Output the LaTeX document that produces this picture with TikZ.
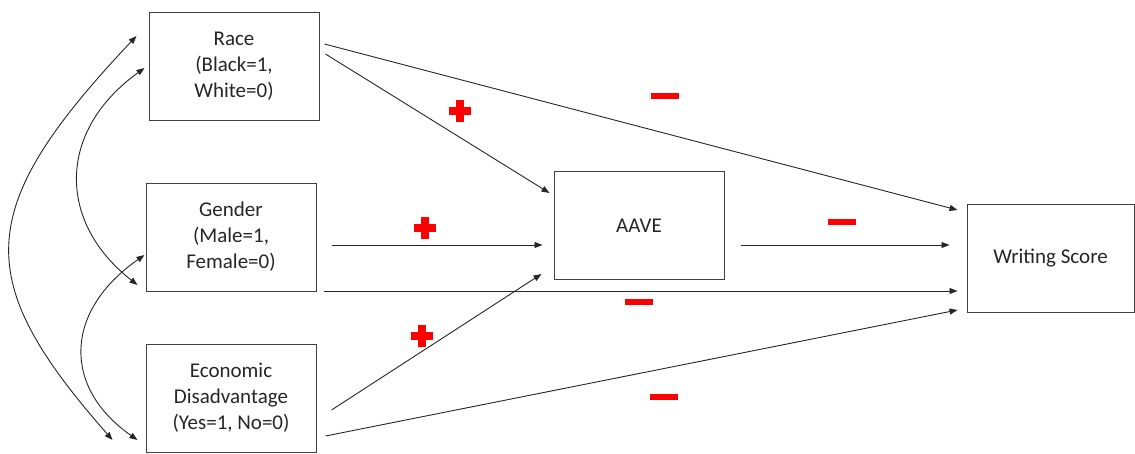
\documentclass[tikz,border=0pt]{standalone}
\usepackage{fontspec}
\setmainfont{Carlito}
\usetikzlibrary{arrows.meta}
\tikzset{
  varbox/.style={draw=black!75, line width=1pt, minimum width=170pt, minimum height=108pt,
    inner sep=0pt, align=center, font=\fontsize{21}{26}\selectfont, text=black!85},
  path/.style={draw=black!85, line width=0.9pt, -{Triangle[length=8pt,width=6pt]}},
  dpath/.style={draw=black!85, line width=0.9pt, {Triangle[length=8pt,width=6pt]}-{Triangle[length=8pt,width=6pt]}},
  signfill/.style={fill=red}
}
\begin{document}
\begin{tikzpicture}[x=1pt,y=-1pt]
\useasboundingbox (0,0) rectangle (1135,453);
\node[varbox] (race) at (234,66) {Race\\(Black=1,\\White=0)};
\node[varbox] (gender) at (231,237) {Gender\\(Male=1,\\Female=0)};
\node[varbox] (econ) at (231,398) {Economic\\Disadvantage\\(Yes=1, No=0)};
\node[varbox] (aave) at (639,225.5) {AAVE};
\node[varbox, minimum width=167pt] (write) at (1050.5,258) {Writing Score};

% direct paths
\draw[path] ([shift={(5,-22)}]race.east) -- ([shift={(-9,-48)}]write.west);
\draw[path] ([shift={(6,-12)}]race.east) -- ([shift={(-4,-32.5)}]aave.west);
\draw[path] ([shift={(15,8)}]gender.east) -- ([shift={(-11,19.5)}]aave.west);
\draw[path] ([shift={(7,54)}]gender.east) -- ([shift={(-9,33)}]write.west);
\draw[path] ([shift={(16,19.5)}]aave.east) -- ([shift={(-17,-13)}]write.west);
\draw[path] ([shift={(15,12)}]econ.east) -- ([shift={(-12,48.5)}]aave.west);
\draw[path] ([shift={(9,38)}]econ.east) -- ([shift={(-9,52)}]write.west);

% correlations
\draw[dpath] ([shift={(-12,-30)}]race.west) .. controls (-28,210) and (-28,280) .. ([shift={(-33,42)}]econ.west);
\draw[dpath] ([shift={(-4,2)}]race.west) .. controls (57,131) and (57,222) .. ([shift={(-8,48)}]gender.west);
\draw[dpath] ([shift={(-1,18)}]gender.west) .. controls (63,312) and (63,388) .. ([shift={(-8,42)}]econ.west);

% signs
\foreach \cx/\cy in {460/111, 425/228, 422/336}{
  \fill[signfill] (\cx-11,\cy-3.8) rectangle (\cx+11,\cy+3.8);
  \fill[signfill] (\cx-3.8,\cy-11) rectangle (\cx+3.8,\cy+11);
}
\foreach \cx/\cy in {665/96, 842/222, 639/302, 664/397}{
  \fill[signfill] (\cx-14,\cy-3) rectangle (\cx+14,\cy+3);
}
\end{tikzpicture}
\end{document}
